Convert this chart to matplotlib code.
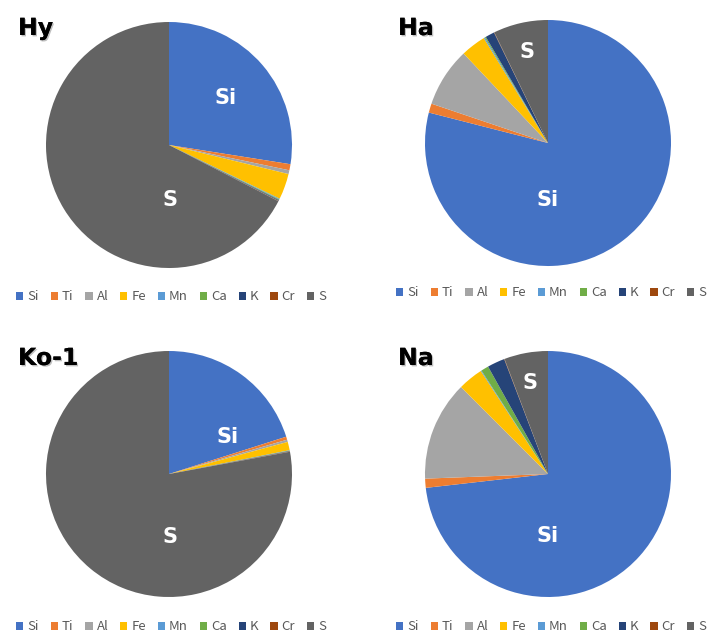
import matplotlib
matplotlib.use("Agg")
import matplotlib.pyplot as plt
from matplotlib.patches import Patch
import matplotlib.patheffects as pe

plt.rcParams['font.family'] = ['Noto Sans CJK JP', 'DejaVu Sans']

elements = ["Si", "Ti", "Al", "Fe", "Mn", "Ca", "K", "Cr", "S"]
colors = ["#4472C4", "#ED7D31", "#A5A5A5", "#FFC000", "#5B9BD5",
          "#70AD47", "#264478", "#9E480E", "#636363"]

# composition (%)
hy = [27.5, 0.8, 0.5, 3.4, 0.1, 0.1, 0.1, 0.05, 67.45]
ha = [79.1, 1.2, 7.8, 3.3, 0.15, 0.15, 1.2, 0.05, 7.2]
ko1 = [20.1, 0.4, 0.3, 1.1, 0.05, 0.05, 0.05, 0.05, 77.9]
na = [73.2, 1.2, 13.1, 3.3, 0.1, 1.0, 2.3, 0.05, 5.75]

W, H = 715, 634
fig = plt.figure(figsize=(W / 100, H / 100), dpi=100)

R = 123
panels = [
    # name, values, pie centre (px), legend centre (px), Si label, S label
    ("Hy", hy, (169, 145), (171, 297), (0.46, 0.38), (0.01, -0.45)),
    ("Ha", ha, (548, 143), (551, 293), (0.0, -0.46), (-0.17, 0.74)),
    ("Ko-1", ko1, (169, 474), (171, 627), (0.48, 0.30), (0.01, -0.51)),
    ("Na", na, (548, 474), (551, 627), (0.0, -0.50), (-0.15, 0.74)),
]
title_pos = {"Hy": (18, 28), "Ha": (398, 28), "Ko-1": (18, 358), "Na": (398, 358)}

for name, vals, (cx, cy), (lx, ly), si_xy, s_xy in panels:
    ax = fig.add_axes([(cx - R) / W, 1 - (cy + R) / H, 2 * R / W, 2 * R / H])
    ax.pie(vals, colors=colors, startangle=90, counterclock=False, radius=1,
           wedgeprops=dict(linewidth=0))
    ax.set_xlim(-1, 1)
    ax.set_ylim(-1, 1)
    ax.set_aspect("equal")
    ax.axis("off")
    for lab, xy in (("Si", si_xy), ("S", s_xy)):
        ax.text(xy[0], xy[1], lab, color="white", fontsize=15, fontweight="bold",
                ha="center", va="center", family="DejaVu Sans")

    tx, ty = title_pos[name]
    fig.text(tx / W, 1 - ty / H, name, fontsize=17, fontweight="bold",
             ha="left", va="center", family="DejaVu Sans",
             path_effects=[pe.withSimplePatchShadow(offset=(1, -1), alpha=0.25),
                           pe.Normal()])

    handles = [Patch(facecolor=c, edgecolor="none") for c in colors]
    fig.legend(handles, elements, loc="center", bbox_to_anchor=(lx / W, 1 - ly / H),
               ncol=9, frameon=False, fontsize=9.5, handlelength=0.55, handleheight=0.55,
               handletextpad=0.3, columnspacing=0.9, labelcolor="#595959")

fig.savefig("out.png", dpi=100, facecolor="white")
